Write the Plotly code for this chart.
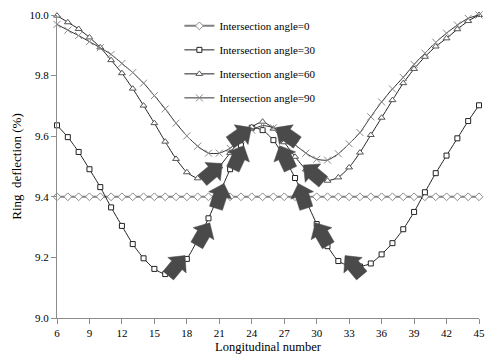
import math
import plotly.graph_objects as go

x = list(range(6, 46))

angle0 = [9.40, 9.40, 9.40, 9.40, 9.40, 9.40, 9.40, 9.40, 9.40, 9.40,
          9.40, 9.40, 9.40, 9.40, 9.40, 9.40, 9.40, 9.40, 9.40, 9.40,
          9.40, 9.40, 9.40, 9.40, 9.40, 9.40, 9.40, 9.40, 9.40, 9.40,
          9.40, 9.40, 9.40, 9.40, 9.40, 9.40, 9.40, 9.40, 9.40, 9.40]
angle30 = [9.636, 9.597, 9.548, 9.491, 9.432, 9.365, 9.304, 9.244, 9.197, 9.162,
           9.145, 9.160, 9.195, 9.258, 9.329, 9.410, 9.491, 9.570, 9.628, 9.620,
           9.587, 9.530, 9.462, 9.388, 9.310, 9.237, 9.188, 9.172, 9.170, 9.180,
           9.210, 9.247, 9.293, 9.350, 9.415, 9.478, 9.536, 9.593, 9.650, 9.702]
angle60 = [9.998, 9.976, 9.954, 9.926, 9.893, 9.851, 9.808, 9.757, 9.701, 9.643,
           9.582, 9.525, 9.481, 9.461, 9.470, 9.500, 9.545, 9.595, 9.630, 9.648,
           9.625, 9.580, 9.532, 9.490, 9.462, 9.453, 9.464, 9.497, 9.546, 9.604,
           9.661, 9.719, 9.775, 9.822, 9.862, 9.896, 9.923, 9.953, 9.980, 10.000]
angle90 = [9.969, 9.950, 9.932, 9.912, 9.892, 9.870, 9.840, 9.810, 9.775, 9.734,
           9.690, 9.643, 9.601, 9.567, 9.544, 9.544, 9.560, 9.590, 9.620, 9.635,
           9.628, 9.603, 9.572, 9.544, 9.524, 9.521, 9.542, 9.575, 9.612, 9.664,
           9.713, 9.756, 9.794, 9.837, 9.874, 9.910, 9.940, 9.967, 9.989, 10.000]

x_ticks = [6, 9, 12, 15, 18, 21, 24, 27, 30, 33, 36, 39, 42, 45]
y_ticks = [9.0, 9.2, 9.4, 9.6, 9.8, 10.0]

# block-arrow annotations: data position and pointing angle (degrees)
arrow_x = [17.06, 19.52, 21.06, 20.35, 22.76, 22.98, 33.39, 30.47, 28.67, 29.69, 27.07, 27.23]
arrow_y = [9.173, 9.277, 9.403, 9.482, 9.530, 9.604, 9.173, 9.277, 9.403, 9.477, 9.530, 9.604]
arrow_ang = [50, 60, 72, 40, 65, 35, 130, 120, 108, 140, 115, 145]

FONT = '"Liberation Serif", "Times New Roman", serif'

fig = go.Figure()
fig.add_trace(go.Scatter(
    x=x, y=angle0, name="Intersection angle=0", mode="lines+markers", legendgroup="a",
    line=dict(color="#808080", width=2),
    marker=dict(symbol="diamond", size=6, color="white", line=dict(color="#8c8c8c", width=1)),
    cliponaxis=False))
fig.add_trace(go.Scatter(
    x=x, y=angle30, name="Intersection angle=30", mode="lines+markers", legendgroup="b",
    line=dict(color="#222222", width=1, shape="spline", smoothing=0.6),
    marker=dict(symbol="square", size=5, color="white", line=dict(color="#222222", width=1)),
    cliponaxis=False))
fig.add_trace(go.Scatter(
    x=x, y=angle60, name="Intersection angle=60", mode="lines+markers", legendgroup="c",
    line=dict(color="#222222", width=1, shape="spline", smoothing=0.6),
    marker=dict(symbol="triangle-up", size=6, color="white", line=dict(color="#555555", width=1)),
    cliponaxis=False))
fig.add_trace(go.Scatter(
    x=x, y=angle90, name="Intersection angle=90", mode="lines+markers", legendgroup="d",
    line=dict(color="#333333", width=1, shape="spline", smoothing=0.6),
    marker=dict(symbol="x-thin", size=7, color="#8a8a8a", line=dict(color="#8a8a8a", width=1)),
    cliponaxis=False))

# arrow geometry in pixels (u along direction, v across)
L_tail, L_head_base, L_tip = -13, 0.5, 13
shaft_w, head_w = 6.8, 12
local = [(L_tail, -shaft_w), (L_head_base, -shaft_w), (L_head_base, -head_w), (L_tip, 0),
         (L_head_base, head_w), (L_head_base, shaft_w), (L_tail, shaft_w)]
shapes = []
for ax_, ay_, ang in zip(arrow_x, arrow_y, arrow_ang):
    t = math.radians(ang)
    c, s = math.cos(t), math.sin(t)
    pts = [(u * c - v * s, u * s + v * c) for u, v in local]
    path = "M " + " L ".join(f"{px:.2f},{py:.2f}" for px, py in pts) + " Z"
    shapes.append(dict(type="path", xref="x", yref="y", xsizemode="pixel", ysizemode="pixel",
                       xanchor=ax_, yanchor=ay_, path=path,
                       fillcolor="#4a4a4a", line=dict(color="#4a4a4a", width=0.5), layer="above"))

fig.update_layout(
    width=485, height=358,
    margin=dict(l=57, r=6, t=15, b=40, autoexpand=False),
    paper_bgcolor="white", plot_bgcolor="white",
    font=dict(family=FONT, size=11, color="black"),
    showlegend=True,
    legend=dict(x=0.29, y=1.012, xanchor="left", yanchor="top", bgcolor="rgba(0,0,0,0)",
                font=dict(family=FONT, size=11, color="black"), tracegroupgap=5,
                itemwidth=30),
    shapes=shapes,
)
fig.update_xaxes(range=[6, 45], tickvals=x_ticks, ticktext=[str(v) for v in x_ticks],
                 showgrid=False, zeroline=False, showline=True, linecolor="#8c8c8c", linewidth=1,
                 ticks="outside", ticklen=5, tickcolor="#8c8c8c",
                 tickfont=dict(family=FONT, size=11, color="black"),
                 title=dict(text="Longitudinal number", font=dict(family=FONT, size=12.5, color="black"),
                            standoff=4))
fig.update_yaxes(range=[9.0, 10.0], tickvals=y_ticks, ticktext=[f"{v:.1f}" for v in y_ticks],
                 showgrid=False, zeroline=False, showline=True, linecolor="#8c8c8c", linewidth=1,
                 ticks="outside", ticklen=5, tickcolor="#8c8c8c",
                 tickfont=dict(family=FONT, size=11, color="black"),
                 title=dict(text="Ring  deflection (%)", font=dict(family=FONT, size=13, color="black"),
                            standoff=4))

fig.write_html("out.html",
               config={"displayModeBar": False},
               post_script="document.body.style.margin='0';document.body.style.overflow='hidden';")
